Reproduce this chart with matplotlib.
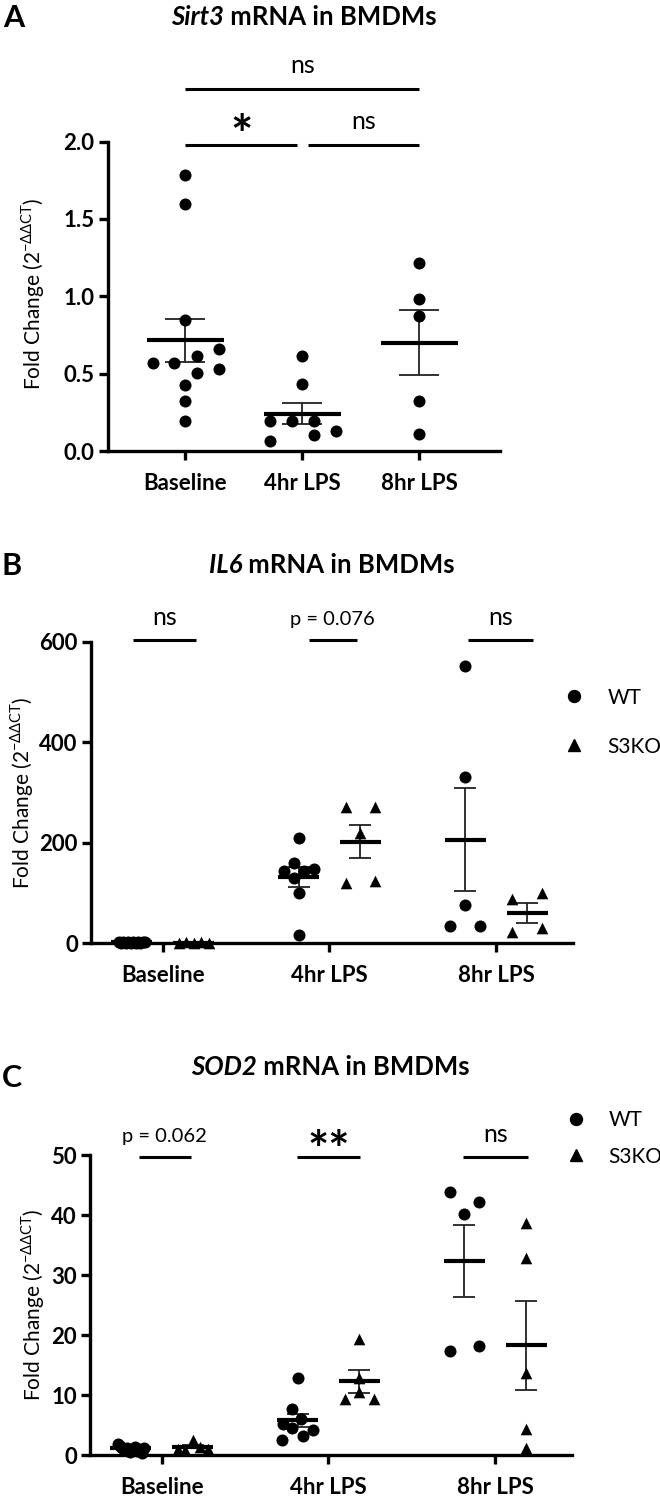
import numpy as np
import matplotlib
matplotlib.use('Agg')
import matplotlib.pyplot as plt
from matplotlib.lines import Line2D

plt.rcParams['font.family'] = ['Lato', 'DejaVu Sans']
plt.rcParams['mathtext.fontset'] = 'custom'
plt.rcParams['mathtext.rm'] = 'Lato'

groups = ['Baseline', '4hr LPS', '8hr LPS']

# ---- A: Sirt3 (WT only) ----
sirt3_baseline = [1.785, 1.594, 0.845, 0.613, 0.656, 0.566, 0.566, 0.533, 0.505, 0.424, 0.32, 0.194]
sirt3_4hr = [0.615, 0.43, 0.194, 0.194, 0.194, 0.103, 0.129, 0.067]
sirt3_8hr = [1.215, 0.983, 0.875, 0.323, 0.108]
sirt3_mean = [0.717, 0.242, 0.70]
sirt3_sem = [0.139, 0.066, 0.21]

# ---- B: IL6 ----
il6_wt_baseline = [1.0, 0.8, 1.3, 0.6, 1.1, 0.9, 1.5, 0.7, 1.2, 0.5, 1.0, 1.4]
il6_wt_4hr = [210, 159, 144, 144, 147, 129, 99, 16]
il6_wt_8hr = [552, 330, 76, 34, 34]
il6_ko_baseline = [0.9, 1.2, 0.7, 1.1, 0.8]
il6_ko_4hr = [271.5, 271.5, 218.5, 120, 123.5]
il6_ko_8hr = [88, 100, 22, 29]
il6_wt_mean = [1.0, 131, 206]
il6_wt_sem = [0.1, 20, 103]
il6_ko_mean = [0.95, 202, 60]
il6_ko_sem = [0.1, 33, 20]

# ---- C: SOD2 ----
sod2_wt_baseline = [1.9, 1.5, 1.2, 0.9, 1.1, 0.5, 0.8, 1.3, 0.7, 1.0, 0.3, 1.2]
sod2_wt_4hr = [12.9, 7.6, 5.2, 4.5, 6.0, 4.2, 3.2, 2.5]
sod2_wt_8hr = [43.9, 42.2, 40.25, 17.3, 18.1]
sod2_ko_baseline = [1.0, 0.8, 2.5, 1.3, 1.0]
sod2_ko_4hr = [19.4, 12.8, 10.5, 9.3, 9.3]
sod2_ko_8hr = [38.6, 32.8, 13.6, 4.4, 1.1]
sod2_wt_mean = [1.1, 5.8, 32.4]
sod2_wt_sem = [0.15, 1.1, 6.0]
sod2_ko_mean = [1.4, 12.3, 18.3]
sod2_ko_sem = [0.3, 1.9, 7.4]

# horizontal scatter of points inside each column (category units)
jit_a_base = [0, 0, 0, 0.097, 0.285, -0.28, -0.094, 0.285, 0.097, 0, 0, 0]
jit_a_4hr = [0, 0, -0.277, -0.092, 0.099, 0.099, 0.288, -0.277]
jit_a_8hr = [0, 0, 0, 0, 0]
jit_wt_base = list(np.linspace(-0.08, 0.08, 12))
jit_ko_base = [-0.09, -0.045, 0, 0.045, 0.09]
jit_b_wt_4hr = [0, -0.028, -0.088, 0.03, 0.092, -0.028, 0, 0]
jit_b_ko_4hr = [-0.087, 0.087, 0, -0.087, 0.087]
jit_b_wt_8hr = [0, 0, 0, -0.09, 0.09]
jit_b_ko_8hr = [-0.09, 0.09, -0.09, 0.09]
jit_c_wt_4hr = [0, -0.035, -0.09, -0.035, 0.02, 0.09, 0.03, -0.095]
jit_c_ko_4hr = [0, 0, 0, -0.085, 0.085]
jit_c_wt_8hr = [-0.088, 0.088, 0, -0.088, 0.088]
jit_c_ko_8hr = [0, 0, 0, 0, 0]

W, H = 660, 1499
fig = plt.figure(figsize=(W / 100, H / 100), dpi=100)


def px_axes(l, r, t, b):
    return fig.add_axes([l / W, 1 - b / H, (r - l) / W, (b - t) / H])


def style(ax, xlim, ylim, yticks, fmt):
    ax.set_xlim(*xlim)
    ax.set_ylim(*ylim)
    for s in ['top', 'right']:
        ax.spines[s].set_visible(False)
    for s in ['left', 'bottom']:
        ax.spines[s].set_linewidth(2.4)
    ax.set_yticks(yticks)
    ax.set_yticklabels([fmt.format(v) for v in yticks], fontweight='bold', fontsize=16)
    ax.set_xticks(range(3))
    ax.set_xticklabels(groups, fontweight='bold', fontsize=16)
    ax.tick_params(axis='both', direction='out', length=6.5, width=2.4)
    ax.tick_params(axis='y', pad=3)
    ax.tick_params(axis='x', pad=9)


def draw_group(ax, x, vals, jit, mean, sem, marker, bar_hw, cap_pt):
    xs = x + np.array(jit)
    ms = 75 if marker == 'o' else 70
    ax.errorbar(x, mean, yerr=sem, fmt='none', ecolor='#222222', elinewidth=1.3,
                capsize=cap_pt, capthick=1.3, zorder=2, clip_on=False)
    ax.scatter(xs, vals, marker=marker, s=ms, color='black', linewidths=0,
               zorder=3, clip_on=False)
    ax.hlines(mean, x - bar_hw, x + bar_hw, color='black', lw=3.0, zorder=4)


def sig(ax, x0, x1, y, text, ty, size=18, weight='normal'):
    ax.plot([x0, x1], [y, y], color='black', lw=2.2, clip_on=False, solid_capstyle='butt')
    ax.text((x0 + x1) / 2, ty, text, ha='center', va='baseline', fontsize=size,
            fontweight=weight, clip_on=False)


ylab = r'Fold Change (2$^{\mathregular{-ΔΔCT}}$)'

# ---------- panel A ----------
axA = px_axes(107.5, 500, 141.5, 451)
style(axA, (-0.666, 2.69), (0, 2.0), [0, 0.5, 1.0, 1.5, 2.0], '{:.1f}')
a_vals = [sirt3_baseline, sirt3_4hr, sirt3_8hr]
a_jit = [jit_a_base, jit_a_4hr, jit_a_8hr]
for i in range(3):
    draw_group(axA, i, a_vals[i], a_jit[i], sirt3_mean[i], sirt3_sem[i], 'o', 0.33, 14.4)
sig(axA, 0.0, 2.0, 2.337, 'ns', 2.44)
sig(axA, 0.0, 0.955, 1.98, '*', 1.92, size=38, weight='bold')
sig(axA, 1.045, 2.0, 1.98, 'ns', 2.084)

# ---------- panels B and C ----------
off = 0.185


def paired(ax, wt, wt_jit, ko, ko_jit, wt_mean, wt_sem, ko_mean, ko_sem):
    for i in range(3):
        draw_group(ax, i - off, wt[i], wt_jit[i], wt_mean[i], wt_sem[i], 'o', 0.123, 7.6)
        draw_group(ax, i + off, ko[i], ko_jit[i], ko_mean[i], ko_sem[i], '^', 0.123, 7.6)


legend_handles = [Line2D([], [], marker='o', ls='none', color='black', markersize=8.6),
                  Line2D([], [], marker='^', ls='none', color='black', markersize=8.4)]

axB = px_axes(91, 573, 641.7, 943)
style(axB, (-0.43, 2.46), (0, 600), [0, 200, 400, 600], '{:d}')
paired(axB, [il6_wt_baseline, il6_wt_4hr, il6_wt_8hr],
       [jit_wt_base, jit_b_wt_4hr, jit_b_wt_8hr],
       [il6_ko_baseline, il6_ko_4hr, il6_ko_8hr],
       [jit_ko_base, jit_b_ko_4hr, jit_b_ko_8hr],
       il6_wt_mean, il6_wt_sem, il6_ko_mean, il6_ko_sem)
sig(axB, -0.18, 0.2, 603, 'ns', 633)
sig(axB, 0.875, 1.165, 603, 'p = 0.076', 633, size=14.5)
sig(axB, 1.83, 2.22, 603, 'ns', 633)
axB.legend(legend_handles, ['WT', 'S3KO'], loc='center left', bbox_to_anchor=(0.980, 0.733),
           frameon=False, fontsize=15, handlelength=1.0, handletextpad=1.13,
           labelspacing=1.4, borderpad=0, borderaxespad=0)

axC = px_axes(90, 572, 1155, 1455)
style(axC, (-0.43, 2.46), (0, 50), [0, 10, 20, 30, 40, 50], '{:d}')
paired(axC, [sod2_wt_baseline, sod2_wt_4hr, sod2_wt_8hr],
       [jit_wt_base, jit_c_wt_4hr, jit_c_wt_8hr],
       [sod2_ko_baseline, sod2_ko_4hr, sod2_ko_8hr],
       [jit_ko_base, jit_c_ko_4hr, jit_c_ko_8hr],
       sod2_wt_mean, sod2_wt_sem, sod2_ko_mean, sod2_ko_sem)
sig(axC, -0.136, 0.174, 49.7, 'p = 0.062', 52.2, size=14.5)
sig(axC, 0.81, 1.19, 49.7, '**', 48.0, size=36, weight='bold')
sig(axC, 1.805, 2.195, 49.7, 'ns', 52.2)
axC.legend(legend_handles, ['WT', 'S3KO'], loc='center left', bbox_to_anchor=(0.987, 1.055),
           frameon=False, fontsize=15, handlelength=1.0, handletextpad=1.04,
           labelspacing=0.78, borderpad=0, borderaxespad=0)

# ---------- titles, letters, y labels ----------
genes = ['Sirt3', 'IL6', 'SOD2']
title_pos = [(304, 25), (332, 573), (330, 1075)]
letter_pos = [(3, 27), (2, 575), (2, 1087)]
ylab_pos = [(33, 294), (22, 793), (33, 1305)]
renderer = fig.canvas.get_renderer()
for g, (tx, ty), lt, (lx, ly), (yx, yy) in zip(genes, title_pos, 'ABC', letter_pos, ylab_pos):
    t1 = fig.text(0, 1 - ty / H, g, ha='left', va='baseline', fontsize=18.5,
                  fontweight='bold', fontstyle='italic')
    t2 = fig.text(0, 1 - ty / H, ' mRNA in BMDMs', ha='left', va='baseline', fontsize=18.5,
                  fontweight='bold')
    w1 = t1.get_window_extent(renderer).width
    w2 = t2.get_window_extent(renderer).width
    x0 = tx - (w1 + w2) / 2
    t1.set_x(x0 / W)
    t2.set_x((x0 + w1) / W)
    fig.text(lx / W, 1 - ly / H, lt, ha='left', va='baseline', fontsize=22, fontweight='bold')
    fig.text(yx / W, 1 - yy / H, ylab, ha='center', va='center', rotation=90, fontsize=15)

fig.savefig('out.png', dpi=100)
